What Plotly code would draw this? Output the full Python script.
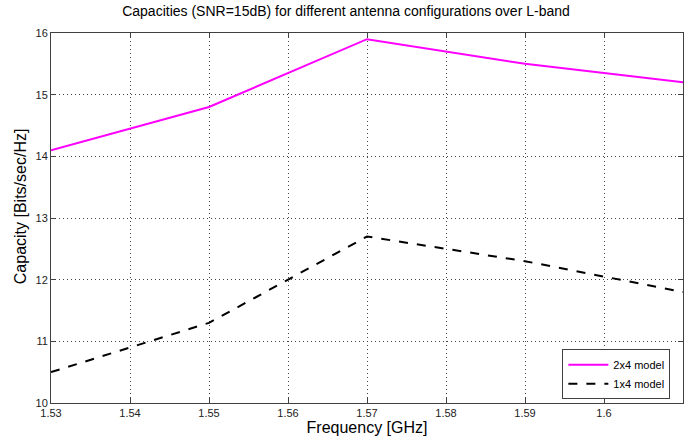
import plotly.graph_objects as go

freq = [1.53, 1.55, 1.57, 1.59, 1.61]
cap_2x4 = [14.1, 14.8, 15.9, 15.5, 15.2]
cap_1x4 = [10.5, 11.3, 12.7, 12.3, 11.8]
x_ticks = [1.53, 1.54, 1.55, 1.56, 1.57, 1.58, 1.59, 1.60, 1.61]
x_tick_text = ["1.53", "1.54", "1.55", "1.56", "1.57", "1.58", "1.59", "1.6", "1.61"]
y_ticks = [10, 11, 12, 13, 14, 15, 16]

fig = go.Figure()
fig.add_trace(go.Scatter(x=freq, y=cap_2x4, mode="lines", name="2x4 model",
                         line=dict(color="#ff00ff", width=2)))
fig.add_trace(go.Scatter(x=freq, y=cap_1x4, mode="lines", name="1x4 model",
                         line=dict(color="black", width=2, dash="dash")))

axis_common = dict(
    showline=True, linecolor="#404040", linewidth=1, mirror="allticks",
    ticks="inside", ticklen=5, tickcolor="#404040",
    showgrid=True, gridcolor="#444444", griddash="1px,3px", gridwidth=1,
    zeroline=False, automargin=False,
    tickfont=dict(family="Arial, Liberation Sans", size=11, color="#222222"),
)

fig.update_layout(
    width=692, height=443,
    margin=dict(l=51, r=9, t=33, b=40),
    paper_bgcolor="white", plot_bgcolor="white",
    title=dict(text="Capacities (SNR=15dB) for different antenna configurations over L-band",
               x=0.5, xanchor="center", y=0.986, yanchor="top",
               font=dict(family="Arial, Liberation Sans", size=14, color="black")),
    xaxis=dict(range=[1.53, 1.61], tickvals=x_ticks, ticktext=x_tick_text,
               title=dict(text="Frequency [GHz]", standoff=3,
                          font=dict(family="Arial, Liberation Sans", size=16, color="black")),
               **axis_common),
    yaxis=dict(range=[10, 16], tickvals=y_ticks, **axis_common),
    legend=dict(x=0.98, xanchor="right", y=0.01, yanchor="bottom",
                bgcolor="white", bordercolor="#404040", borderwidth=1,
                font=dict(family="Arial, Liberation Sans", size=11, color="black"),
                tracegroupgap=0, itemwidth=40),
    showlegend=True,
)

fig.add_annotation(text="Capacity [Bits/sec/Hz]", xref="paper", yref="paper",
                   x=-0.049, y=0.532, xanchor="center", yanchor="middle",
                   textangle=-90, showarrow=False,
                   font=dict(family="Arial, Liberation Sans", size=16, color="black"))

fig.write_html("out.html", config={"displayModeBar": False},
               post_script="document.body.style.margin='0';")
